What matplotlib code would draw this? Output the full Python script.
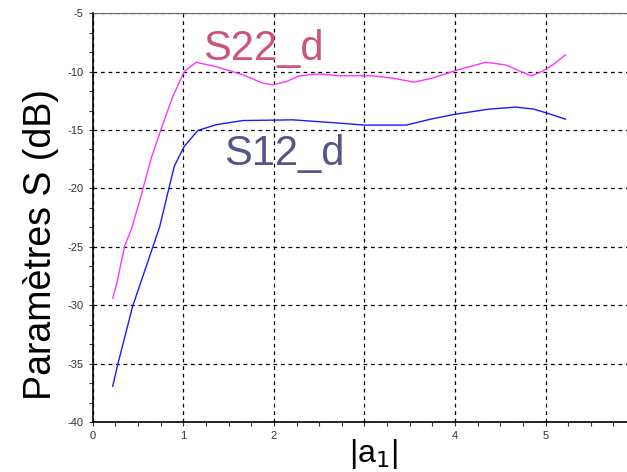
import matplotlib.pyplot as plt
from matplotlib.ticker import MultipleLocator

# values
s22_x = [0.22, 0.26, 0.35, 0.43, 0.52, 0.65, 0.76, 0.885, 1.01, 1.14, 1.36, 1.66,
         1.88, 1.99, 2.14, 2.28, 2.5, 2.72, 3.09, 3.31, 3.55, 3.75, 4.01, 4.34,
         4.56, 4.73, 4.84, 4.96, 5.08, 5.22]
s22_y = [-29.4, -28.3, -25.0, -23.4, -21.0, -17.3, -14.8, -12.1, -10.0, -9.2, -9.57, -10.28,
         -11.0, -11.13, -10.85, -10.36, -10.2, -10.36, -10.36, -10.56, -10.9, -10.56, -9.9, -9.2,
         -9.43, -10.0, -10.36, -10.0, -9.43, -8.57]

s12_x = [0.22, 0.28, 0.44, 0.665, 0.74, 0.81, 0.90, 1.01, 1.16, 1.36, 1.66, 2.21,
         2.72, 3.0, 3.46, 3.75, 4.01, 4.38, 4.67, 4.87, 5.04, 5.22]
s12_y = [-36.94, -34.94, -30.1, -24.97, -23.25, -20.97, -18.1, -16.4, -15.04, -14.55, -14.19, -14.13,
         -14.41, -14.58, -14.58, -14.04, -13.64, -13.21, -13.04, -13.21, -13.61, -14.07]

x_ticks = [0, 1, 2, 3, 4, 5]
x_tick_labels = ['0', '1', '2', '', '4', '5']
y_ticks = [-40, -35, -30, -25, -20, -15, -10, -5]

plt.rcParams['font.family'] = ['Liberation Sans', 'DejaVu Sans']
plt.rcParams['axes.unicode_minus'] = False

fig = plt.figure(figsize=(6.27, 4.72), dpi=100)
ax = fig.add_axes([0.148, 0.106, 0.852, 0.866])

ax.plot(s22_x, s22_y, color='#ff33ff', lw=1.0)
ax.plot(s12_x, s12_y, color='#1a1aff', lw=1.0)

ax.set_xlim(0, 5.9)
ax.set_ylim(-40, -5)
ax.set_xticks(x_ticks)
ax.set_xticklabels(x_tick_labels)
ax.set_yticks(y_ticks)
ax.xaxis.set_minor_locator(MultipleLocator(0.25))
ax.yaxis.set_minor_locator(MultipleLocator(5 / 3))
ax.tick_params(which='both', direction='out', length=3, width=0.8,
               labelsize=8, colors='#333333')
ax.grid(True, which='major', color='black', linestyle=(0, (3, 3)), lw=0.9)

ax.spines['right'].set_visible(False)
ax.spines['top'].set_color('#666666')
ax.spines['left'].set_lw(1.2)
ax.spines['bottom'].set_lw(1.2)

ax.set_ylabel('Paramètres S (dB)', fontsize=27)
ax.yaxis.set_label_coords(-0.064, 0.435)
ax.set_xlabel(r'|a$_1$|', fontsize=23)
ax.xaxis.set_label_coords(0.526, -0.037)
ax.xaxis.label.set_verticalalignment('top')

ax.text(1.22, -9.0, 'S22_d', fontsize=30, color='#cc5577')
ax.text(1.45, -18.0, 'S12_d', fontsize=30, color='#55558c')

fig.savefig('out.png', dpi=100)
